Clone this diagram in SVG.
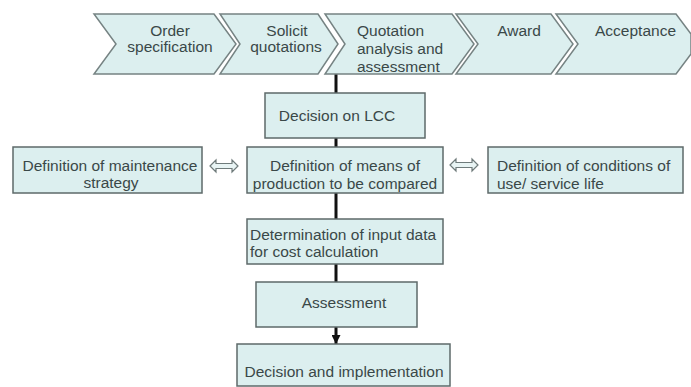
<svg xmlns="http://www.w3.org/2000/svg" width="691" height="387" viewBox="0 0 691 387">
<style>
.chev{fill:#dcefef;stroke:#768383;stroke-width:1.5;stroke-linejoin:miter}
.box{fill:#dcefef;stroke:#5e6a6a;stroke-width:1.5}
.dbl{fill:#e8f4f4;stroke:#6f7b7b;stroke-width:1.2}
.t{font-family:"Liberation Sans",Arial,sans-serif;font-size:15.5px;fill:#3a4848}
.c{text-anchor:middle}
.conn{stroke:#111;stroke-width:3;fill:none}
</style>
<defs>
<marker id="ah" viewBox="0 0 10 10" refX="10" refY="5" markerWidth="3" markerHeight="3" orient="auto" markerUnits="strokeWidth">
<path d="M0,0 L10,5 L0,10 z" fill="#111"/>
</marker>
</defs>
<rect width="691" height="387" fill="#ffffff"/>

<g id="connectors">
<line class="conn" x1="336" y1="74" x2="336" y2="93"/>
<line class="conn" x1="336" y1="138" x2="336" y2="147"/>
<line class="conn" x1="336" y1="193" x2="336" y2="219"/>
<line class="conn" x1="336" y1="264" x2="336" y2="282"/>
<line class="conn" x1="336" y1="327" x2="336" y2="344" marker-end="url(#ah)"/>
<polygon class="dbl" points="210,166 216,160 216,163.5 232,163.5 232,160 238,166 232,172 232,168.5 216,168.5 216,172"/>
<polygon class="dbl" points="450,165 456,159 456,162.5 472,162.5 472,159 478,165 472,171 472,167.5 456,167.5 456,171"/>
</g>

<g id="step-order">
<polygon class="chev" points="94,14 214,14 236,44 214,74 94,74 116,44"/>
<text class="t c" x="170" y="36">Order</text>
<text class="t c" x="170" y="52">specification</text>
</g>
<g id="step-solicit">
<polygon class="chev" points="220,14 318,14 338,44 318,74 220,74 240,44"/>
<text class="t c" x="287" y="36">Solicit</text>
<text class="t c" x="286" y="52">quotations</text>
</g>
<g id="step-quotation">
<polygon class="chev" points="325,14 452,14 474,44 452,74 325,74 345,44"/>
<text class="t" x="357" y="36">Quotation</text>
<text class="t" x="357" y="54">analysis and</text>
<text class="t" x="357" y="72">assessment</text>
</g>
<g id="step-award">
<polygon class="chev" points="456,14 551,14 573,44 551,74 456,74 478,44"/>
<text class="t c" x="519" y="36">Award</text>
</g>
<g id="step-acceptance">
<polygon class="chev" points="556,14 676,14 691,34 691,54 676,74 556,74 578,44"/>
<text class="t" x="595" y="36">Acceptance</text>
</g>

<g id="decision-lcc">
<rect class="box" x="265" y="93" width="160" height="45"/>
<text class="t c" x="337" y="121">Decision on LCC</text>
</g>
<g id="maintenance-strategy">
<rect class="box" x="13" y="147" width="189" height="46"/>
<text class="t c" x="110" y="171">Definition of maintenance</text>
<text class="t c" x="111" y="188">strategy</text>
</g>
<g id="means-of-production">
<rect class="box" x="247" y="147" width="196" height="46"/>
<text class="t c" x="345" y="171">Definition of means of</text>
<text class="t c" x="345" y="189">production to be compared</text>
</g>
<g id="conditions-of-use">
<rect class="box" x="488" y="147" width="195" height="46"/>
<text class="t" x="497" y="171">Definition of conditions of</text>
<text class="t" x="497" y="189">use/ service life</text>
</g>
<g id="input-data">
<rect class="box" x="247" y="219" width="196" height="45"/>
<text class="t" x="250" y="240">Determination of input data</text>
<text class="t" x="250" y="257">for cost calculation</text>
</g>
<g id="assessment">
<rect class="box" x="256" y="282" width="161" height="45"/>
<text class="t c" x="344" y="308">Assessment</text>
</g>
<g id="decision-implementation">
<rect class="box" x="237" y="344" width="213" height="42"/>
<text class="t c" x="344" y="377">Decision and implementation</text>
</g>
</svg>
